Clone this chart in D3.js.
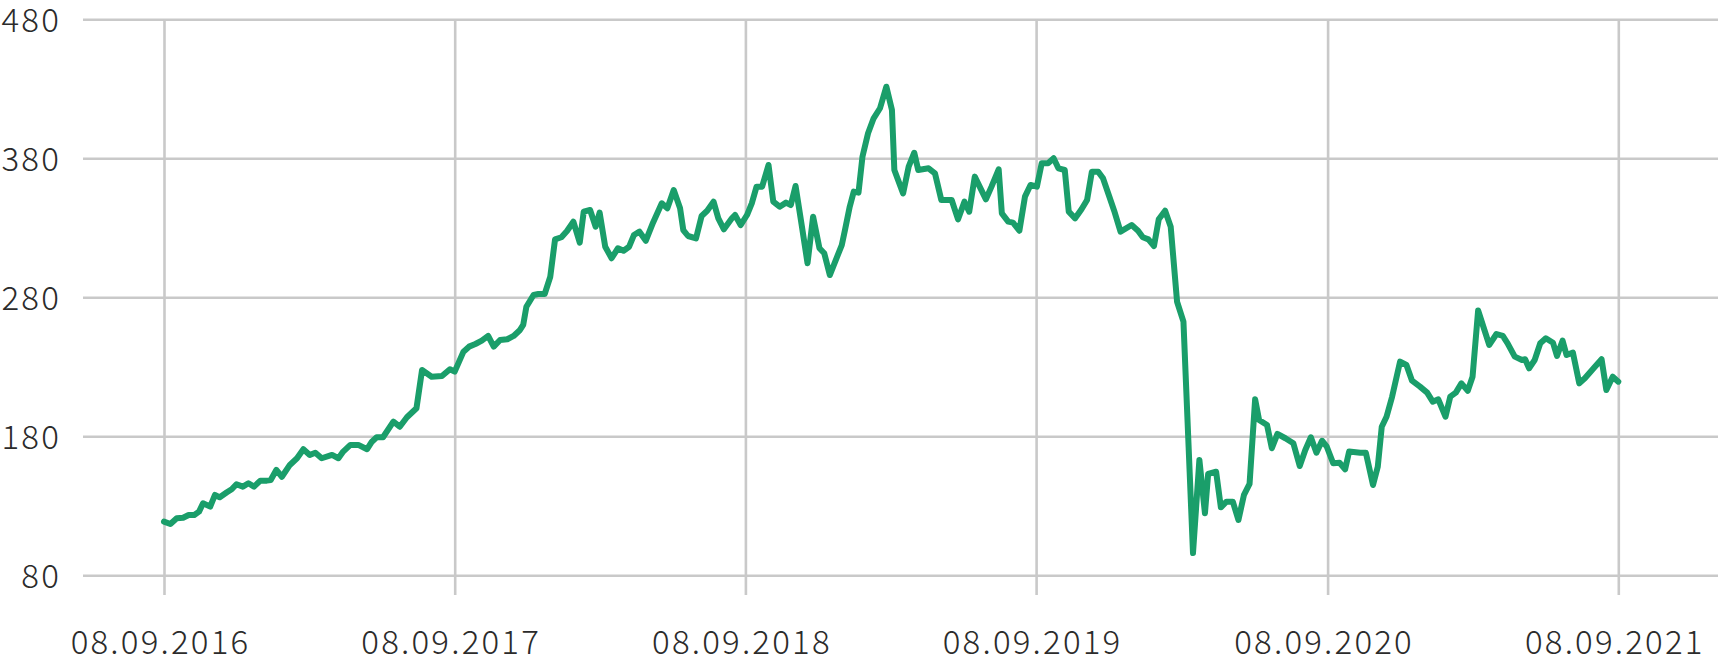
<!DOCTYPE html>
<html><head><meta charset="utf-8">
<script src="https://cdn.jsdelivr.net/npm/d3@7"></script>
<style>html,body{margin:0;padding:0;background:#fff;overflow:hidden}</style>
</head><body><svg id="chart" width="1718" height="658"></svg>
<script>
const dates = [
"2016-09-08","2016-09-16","2016-09-24","2016-10-02","2016-10-09","2016-10-16","2016-10-22","2016-10-27","2016-11-05","2016-11-11",
"2016-11-17","2016-11-26","2016-12-02","2016-12-08","2016-12-16","2016-12-23","2016-12-30","2017-01-07","2017-01-15","2017-01-20",
"2017-01-27","2017-02-03","2017-02-13","2017-02-22","2017-03-02","2017-03-10","2017-03-17","2017-03-25","2017-04-07","2017-04-15",
"2017-04-21","2017-04-30","2017-05-10","2017-05-21","2017-05-27","2017-06-02","2017-06-10","2017-06-23","2017-07-01","2017-07-10",
"2017-07-22","2017-07-29","2017-08-10","2017-08-23","2017-09-02","2017-09-08","2017-09-19","2017-09-26","2017-10-04","2017-10-12",
"2017-10-20","2017-10-27","2017-11-04","2017-11-13","2017-11-21","2017-11-29","2017-12-03","2017-12-07","2017-12-16","2017-12-22",
"2017-12-30","2018-01-06","2018-01-12","2018-01-20","2018-01-27","2018-02-04","2018-02-12","2018-02-17","2018-02-25","2018-03-04",
"2018-03-09","2018-03-16","2018-03-24","2018-04-01","2018-04-08","2018-04-15","2018-04-21","2018-04-28","2018-05-06","2018-05-15",
"2018-05-26","2018-06-02","2018-06-10","2018-06-18","2018-06-22","2018-06-28","2018-07-08","2018-07-15","2018-07-22","2018-07-30",
"2018-08-05","2018-08-12","2018-08-22","2018-08-26","2018-09-02","2018-09-10","2018-09-16","2018-09-22","2018-09-29","2018-10-07",
"2018-10-13","2018-10-21","2018-10-29","2018-11-04","2018-11-10","2018-11-18","2018-11-25","2018-12-02","2018-12-10","2018-12-16",
"2018-12-23","2019-01-07","2019-01-11","2019-01-17","2019-01-22","2019-01-28","2019-02-02","2019-02-09","2019-02-16","2019-02-24",
"2019-03-04","2019-03-11","2019-03-14","2019-03-25","2019-04-01","2019-04-08","2019-04-13","2019-04-26","2019-05-04","2019-05-12",
"2019-05-25","2019-06-02","2019-06-10","2019-06-16","2019-06-23","2019-07-07","2019-07-14","2019-07-23","2019-07-27","2019-08-04",
"2019-08-10","2019-08-18","2019-08-25","2019-09-01","2019-09-09","2019-09-15","2019-09-23","2019-09-30","2019-10-06","2019-10-14",
"2019-10-19","2019-10-27","2019-11-04","2019-11-11","2019-11-17","2019-11-25","2019-12-01","2019-12-09","2019-12-15","2019-12-23",
"2020-01-06","2020-01-14","2020-01-20","2020-01-27","2020-02-03","2020-02-09","2020-02-17","2020-02-24","2020-03-03","2020-03-11",
"2020-03-23","2020-03-31","2020-04-07","2020-04-11","2020-04-21","2020-04-27","2020-05-04","2020-05-12","2020-05-19","2020-05-26",
"2020-06-02","2020-06-09","2020-06-14","2020-06-24","2020-06-30","2020-07-07","2020-07-17","2020-07-27","2020-08-04","2020-08-11",
"2020-08-18","2020-08-25","2020-09-01","2020-09-07","2020-09-15","2020-09-23","2020-09-30","2020-10-05","2020-10-19","2020-10-26",
"2020-11-04","2020-11-10","2020-11-15","2020-11-21","2020-11-28","2020-12-08","2020-12-16","2020-12-23","2021-01-02","2021-01-11",
"2021-01-18","2021-01-25","2021-02-03","2021-02-09","2021-02-16","2021-02-23","2021-03-03","2021-03-09","2021-03-16","2021-03-30",
"2021-04-08","2021-04-16","2021-04-22","2021-05-01","2021-05-10","2021-05-14","2021-05-19","2021-05-26","2021-06-02","2021-06-09",
"2021-06-18","2021-06-23","2021-06-30","2021-07-05","2021-07-13","2021-07-21","2021-07-28","2021-08-08","2021-08-18","2021-08-24",
"2021-09-01","2021-09-08"
];
const values = [
118.6,116.9,121.0,121.4,123.4,123.4,125.8,131.8,129.4,137.8,
136.1,139.7,141.9,145.5,143.8,146.2,143.8,148.1,148.1,148.6,
155.8,150.9,159.4,164.2,170.7,166.6,168.2,164.2,166.6,164.2,
169.0,173.8,173.8,170.7,176.1,179.3,179.3,190.5,186.9,193.7,
200.2,227.7,222.9,223.4,228.2,226.5,240.9,244.5,246.4,248.8,
252.2,244.5,249.3,249.8,252.2,256.5,260.1,273.2,281.7,282.4,
282.4,294.8,321.7,323.2,327.7,334.4,319.3,341.6,342.8,330.8,
340.9,316.4,308.1,315.3,313.5,316.4,324.8,327.2,320.7,333.7,
347.6,344.0,357.2,344.0,328.4,324.1,322.4,338.5,342.3,348.8,
336.8,328.9,336.8,339.2,332.0,339.2,347.6,359.6,359.6,375.2,
348.8,345.2,348.1,346.4,360.1,330.8,304.5,338.0,315.3,311.7,
296.0,317.6,328.4,345.2,356.0,355.3,381.2,398.0,408.8,416.0,
431.5,414.7,371.6,354.8,374.0,384.0,371.6,372.8,369.2,350.0,
350.0,336.1,348.8,341.6,366.8,350.5,359.6,372.1,340.4,334.4,
333.7,327.9,352.4,360.8,359.6,376.4,376.4,380.0,372.8,371.6,
341.6,336.8,343.3,350.0,370.4,370.4,365.6,352.4,342.3,327.2,
332.0,327.9,323.2,321.7,316.9,336.1,342.3,330.8,276.8,262.5,
96.0,163.0,124.6,152.9,154.5,128.9,133.0,133.0,119.8,137.8,
145.7,206.6,191.7,188.1,171.4,181.7,178.6,175.0,158.6,170.2,
179.3,168.2,176.8,172.5,160.6,161.0,156.3,169.0,168.2,168.2,
145.0,158.1,186.9,194.1,208.5,233.7,231.3,220.0,215.7,211.4,
204.9,206.6,194.1,208.5,211.4,218.1,212.8,222.9,270.5,245.7,
253.6,252.2,246.9,237.3,234.9,235.4,228.9,234.9,246.9,250.5,
247.3,237.8,248.8,238.5,240.2,218.1,221.7,228.9,235.4,213.3,
222.9,219.3
];
const yTicks = [80, 180, 280, 380, 480];
const xTickDates = ["2016-09-08","2017-09-08","2018-09-08","2019-09-08","2020-09-08","2021-09-08"];
const xTickLabels = ["08.09.2016","08.09.2017","08.09.2018","08.09.2019","08.09.2020","08.09.2021"];

const W = 1718, H = 658;
const gridLeft = 83, gridRight = W;
const plotTop = 19.3, plotBottom = 575.3, vLineBottom = 595;
const firstX = 164, lastX = 1618.3;
const FONT = '"Noto Sans CJK SC","Noto Sans",sans-serif';

const parse = d3.timeParse("%Y-%m-%d");
const data = dates.map((d, i) => ({date: parse(d), value: values[i]}));
const tickDates = xTickDates.map(parse);

const x = d3.scaleTime().domain(d3.extent(tickDates)).range([firstX, lastX]);
const y = d3.scaleLinear().domain([d3.min(yTicks), d3.max(yTicks)]).range([plotBottom, plotTop]);

const svg = d3.select("#chart");

// horizontal grid + y labels
const yAxis = svg.append("g")
  .attr("transform", `translate(${gridLeft},0)`)
  .call(d3.axisLeft(y).tickValues(yTicks).tickSize(-(gridRight - gridLeft)).tickPadding(22).tickFormat(d3.format("d")));
yAxis.select(".domain").remove();
yAxis.selectAll(".tick line").attr("stroke", "#c9c9c9").attr("stroke-width", 2.6);
yAxis.selectAll(".tick text")
  .attr("fill", "#2b2b2b").attr("font-family", FONT).attr("font-size", 33).attr("font-weight", 300)
  .attr("letter-spacing", "2.2px").attr("dy", "0.36em");

// vertical grid + x labels
const xAxis = svg.append("g")
  .attr("transform", `translate(0,${vLineBottom})`)
  .call(d3.axisBottom(x).tickValues(tickDates).tickSize(-(vLineBottom - plotTop)).tickFormat((d, i) => xTickLabels[i]));
xAxis.select(".domain").remove();
xAxis.selectAll(".tick line").attr("stroke", "#c9c9c9").attr("stroke-width", 2.6);
xAxis.selectAll(".tick text")
  .attr("fill", "#2b2b2b").attr("font-family", FONT).attr("font-size", 33).attr("font-weight", 300)
  .attr("letter-spacing", "2.2px").attr("y", 59).attr("dy", 0).attr("dx", -4);

// line
const line = d3.line().x(d => x(d.date)).y(d => y(d.value));
svg.append("path").datum(data)
  .attr("d", line)
  .attr("fill", "none")
  .attr("stroke", "#1a9e6a")
  .attr("stroke-width", 6)
  .attr("stroke-linejoin", "round")
  .attr("stroke-linecap", "round");
</script>
</body></html>
